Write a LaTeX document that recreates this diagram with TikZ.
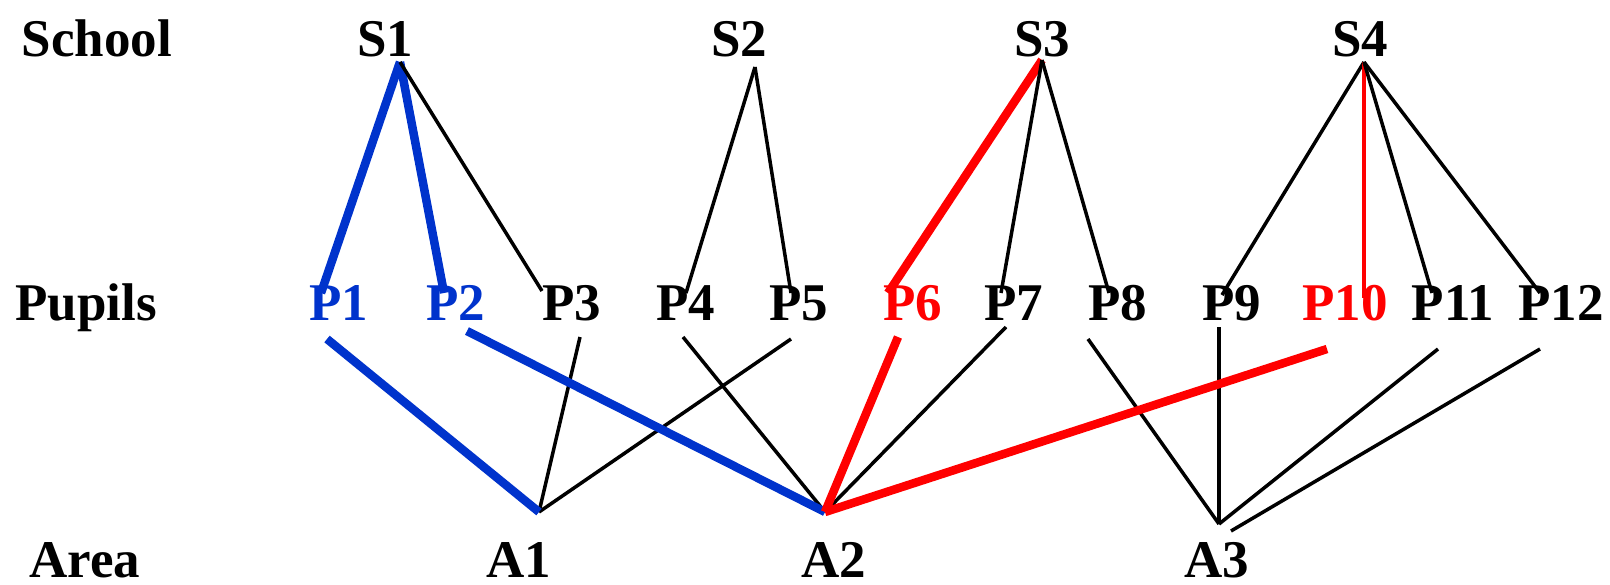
\documentclass[tikz,border=0pt]{standalone}
\usepackage{fontspec}
\setmainfont{Liberation Serif}
\definecolor{hblue}{RGB}{0,51,204}
\definecolor{hred}{RGB}{255,0,0}
\begin{document}
\begin{tikzpicture}[x=1pt,y=-1pt,
  lbl/.style={anchor=base,inner sep=0pt,font=\fontsize{53}{60}\selectfont\bfseries},
  thin edge/.style={draw=black,line width=3.5pt},
  blue edge/.style={draw=hblue,line width=8.5pt},
  red edge/.style={draw=hred,line width=8.5pt},
  red thin/.style={draw=hred,line width=4pt}]
\useasboundingbox (0,0) rectangle (1610,584);
% row labels
\node[lbl] (school) at (97,56) {School};
\node[lbl] (pupils) at (86,320) {Pupils};
\node[lbl] (area) at (85,577) {Area};
% schools
\node[lbl] (S1) at (385,56) {S1};
\node[lbl] (S2) at (739,56) {S2};
\node[lbl] (S3) at (1042,56) {S3};
\node[lbl] (S4) at (1360,56) {S4};
% pupils
\node[lbl,text=hblue] (P1) at (339,320) {P1};
\node[lbl,text=hblue] (P2) at (456,320) {P2};
\node[lbl] (P3) at (572,320) {P3};
\node[lbl] (P4) at (686,320) {P4};
\node[lbl] (P5) at (799,320) {P5};
\node[lbl,text=hred] (P6) at (913,320) {P6};
\node[lbl] (P7) at (1014,320) {P7};
\node[lbl] (P8) at (1118,320) {P8};
\node[lbl] (P9) at (1232,320) {P9};
\node[lbl,text=hred] (P10) at (1345,320) {P10};
\node[lbl] (P11) at (1453,320) {P11};
\node[lbl] (P12) at (1561,320) {P12};
% areas
\node[lbl] (A1) at (519,577) {A1};
\node[lbl] (A2) at (834,577) {A2};
\node[lbl] (A3) at (1217,577) {A3};
% junction points
\coordinate (S1b) at (400,62);
\coordinate (S2b) at (755,67);
\coordinate (S3b) at (1042,60);
\coordinate (S4b) at (1364,62);
\coordinate (A1t) at (539,512);
\coordinate (A2t) at (825,512);
\coordinate (A3t) at (1219,524);
\coordinate (P1t) at (321,293);  \coordinate (P1b) at (327,339);
\coordinate (P2t) at (444,293);  \coordinate (P2b) at (467,331);
\coordinate (P3t) at (542,291);  \coordinate (P3b) at (580,337);
\coordinate (P4t) at (686,293);  \coordinate (P4b) at (683,337);
\coordinate (P5t) at (791,293);  \coordinate (P5b) at (791,339);
\coordinate (P6t) at (888,293);  \coordinate (P6b) at (898,337);
\coordinate (P7t) at (1001,293); \coordinate (P7b) at (1006,327);
\coordinate (P8t) at (1109,293); \coordinate (P8b) at (1088,339);
\coordinate (P9t) at (1222,295); \coordinate (P9b) at (1219,327);
\coordinate (P10t) at (1364,298);\coordinate (P10b) at (1327,349);
\coordinate (P11t) at (1432,293);\coordinate (P11b) at (1438,349);
\coordinate (P12t) at (1540,293);\coordinate (P12b) at (1540,349);
% school - pupil
\draw[blue edge] (S1b) -- (P1t);
\draw[blue edge] (S1b) -- (P2t);
\draw[thin edge] (S1b) -- (P3t);
\draw[thin edge] (S2b) -- (P4t);
\draw[thin edge] (S2b) -- (P5t);
\draw[red edge] (S3b) -- (P6t);
\draw[thin edge] (S3b) -- (P7t);
\draw[thin edge] (S3b) -- (P8t);
\draw[thin edge] (S4b) -- (P9t);
\draw[red thin] (S4b) -- (P10t);
\draw[thin edge] (S4b) -- (P11t);
\draw[thin edge] (S4b) -- (P12t);
% pupil - area
\draw[thin edge] (P3b) -- (A1t);
\draw[thin edge] (P5b) -- (A1t);
\draw[thin edge] (P4b) -- (A2t);
\draw[thin edge] (P7b) -- (A2t);
\draw[thin edge] (P8b) -- (A3t);
\draw[thin edge] (P9b) -- (A3t);
\draw[thin edge] (P11b) -- (A3t);
\draw[thin edge] (P12b) -- ([xshift=12pt,yshift=-7pt]A3t);
\draw[blue edge] (P1b) -- (A1t);
\draw[blue edge] (P2b) -- (A2t);
\draw[red edge] (P6b) -- (A2t);
\draw[red edge] (P10b) -- (A2t);
\end{tikzpicture}
\end{document}
